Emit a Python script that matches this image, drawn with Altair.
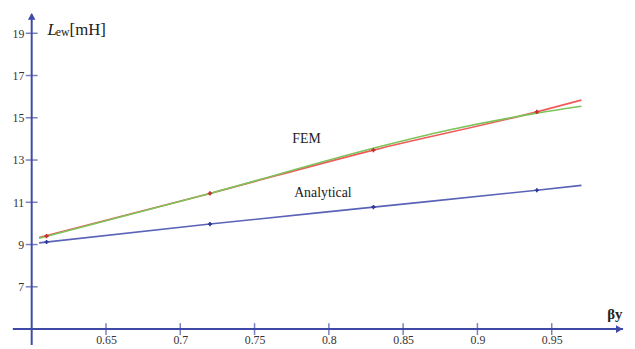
import altair as alt
import pandas as pd

# ---- data ----
line_x = [0.605, 0.72, 0.83, 0.94, 0.97]
fem_red = [9.33, 11.42, 13.47, 15.28, 15.84]
green_x = [0.605, 0.72, 0.83, 0.88, 0.94, 0.97]
fem_green = [9.30, 11.42, 13.56, 14.41, 15.22, 15.55]
analytical = [9.08, 9.97, 10.77, 11.57, 11.80]

marker_x = [0.61, 0.72, 0.83, 0.94]
marker_red = [9.40, 11.42, 13.47, 15.28]
marker_blue = [9.12, 9.97, 10.77, 11.57]

x_ticks = [0.65, 0.7, 0.75, 0.8, 0.85, 0.9, 0.95]
y_ticks = [7, 9, 11, 13, 15, 17, 19]

AXIS = "#3f4aa6"
RED = "#f05a5a"
GREEN = "#7cc35a"
BLUE = "#5a63b8"
FONT = "Liberation Serif"

red_df = pd.DataFrame({"x": line_x, "y": fem_red})
green_df = pd.DataFrame({"x": green_x, "y": fem_green})
blue_df = pd.DataFrame({"x": line_x, "y": analytical})
mred_df = pd.DataFrame({"x": marker_x, "y": marker_red})
mblue_df = pd.DataFrame({"x": marker_x, "y": marker_blue})
xt_df = pd.DataFrame({"x": x_ticks})
yt_df = pd.DataFrame({"y": y_ticks})

xs = alt.Scale(domain=[0.6, 1.0], nice=False, zero=False)
ys = alt.Scale(domain=[5, 20], nice=False, zero=False)

AX_X = alt.Axis(values=x_ticks, format=".2~f", ticks=False, domain=False, grid=False, title=None,
                labelFont=FONT, labelFontSize=12, labelColor="#333333", labelPadding=6, labelFlush=False)
AX_Y = alt.Axis(values=y_ticks, ticks=False, domain=False, grid=False, title=None,
                labelFont=FONT, labelFontSize=12, labelColor="#333333", labelPadding=8)

X = lambda f: alt.X(f, type="quantitative", scale=xs, axis=AX_X)
Y = lambda f: alt.Y(f, type="quantitative", scale=ys, axis=AX_Y)
DX = lambda v: alt.datum(v, scale=xs, axis=AX_X)
DY = lambda v: alt.datum(v, scale=ys, axis=AX_Y)

x_axis_line = alt.Chart().mark_rule(color=AXIS, strokeWidth=2).encode(
    x=DX(0.5873), x2=alt.datum(0.998), y=DY(5))
y_axis_line = alt.Chart().mark_rule(color=AXIS, strokeWidth=2).encode(
    x=DX(0.6), y=DY(4.25), y2=alt.datum(19.9))
x_arrow = alt.Chart().mark_point(shape="triangle-right", filled=True, color=AXIS, size=60, opacity=1).encode(
    x=DX(0.9955), y=DY(5))
y_arrow = alt.Chart().mark_point(shape="triangle-up", filled=True, color=AXIS, size=60, opacity=1).encode(
    x=DX(0.6), y=DY(19.8))

x_tick_marks = alt.Chart(xt_df).mark_tick(orient="vertical", size=12, thickness=1.5, color=AXIS).encode(
    x=X("x"), y=DY(5))
y_tick_marks = alt.Chart(yt_df).mark_tick(orient="horizontal", size=12, thickness=1.5, color=AXIS).encode(
    y=Y("y"), x=DX(0.6))

red_line = alt.Chart(red_df).mark_line(color=RED, strokeWidth=1.6, interpolate="monotone").encode(x=X("x"), y=Y("y"))
green_line = alt.Chart(green_df).mark_line(color=GREEN, strokeWidth=1.6, interpolate="monotone").encode(x=X("x"), y=Y("y"))
blue_line = alt.Chart(blue_df).mark_line(color=BLUE, strokeWidth=1.6, interpolate="monotone").encode(x=X("x"), y=Y("y"))

red_marks = alt.Chart(mred_df).mark_point(shape="cross", filled=True, color="#c43030", size=18, opacity=1).encode(x=X("x"), y=Y("y"))
blue_marks = alt.Chart(mblue_df).mark_point(shape="cross", filled=True, color="#2d3a9a", size=18, opacity=1).encode(x=X("x"), y=Y("y"))

fem_label = alt.Chart().mark_text(text="FEM", font=FONT, fontSize=14, color="#222222").encode(
    x=DX(0.785), y=DY(13.98))
an_label = alt.Chart().mark_text(text="Analytical", font=FONT, fontSize=14, color="#222222").encode(
    x=DX(0.796), y=DY(11.45))

L_label = alt.Chart().mark_text(text="L", font=FONT, fontSize=17, fontStyle="italic", color="#222222",
                                align="left", baseline="alphabetic").encode(x=DX(0.6107), y=DY(18.94))
ew_label = alt.Chart().mark_text(text="ew", font=FONT, fontSize=12, color="#222222",
                                 align="left", baseline="alphabetic").encode(x=DX(0.6162), y=DY(18.86))
mh_label = alt.Chart().mark_text(text="[mH]", font=FONT, fontSize=17, color="#222222",
                                 align="left", baseline="alphabetic").encode(x=DX(0.6255), y=DY(18.94))
by_label = alt.Chart().mark_text(text="βy", font=FONT, fontSize=15, fontWeight="bold", color="#222222").encode(
    x=DX(0.9925), y=DY(5.72))

chart = alt.layer(
    red_line, green_line, blue_line, red_marks, blue_marks,
    x_axis_line, y_axis_line, x_tick_marks, y_tick_marks, x_arrow, y_arrow,
    fem_label, an_label, L_label, ew_label, mh_label, by_label,
).properties(
    width=602, height=321,
    autosize=alt.AutoSizeParams(type="none"),
    padding={"left": 24, "top": 2, "right": 1, "bottom": 18},
    background="white",
).configure_view(stroke=None)

chart.save("out.html", embed_options={"renderer": "svg", "actions": False})
